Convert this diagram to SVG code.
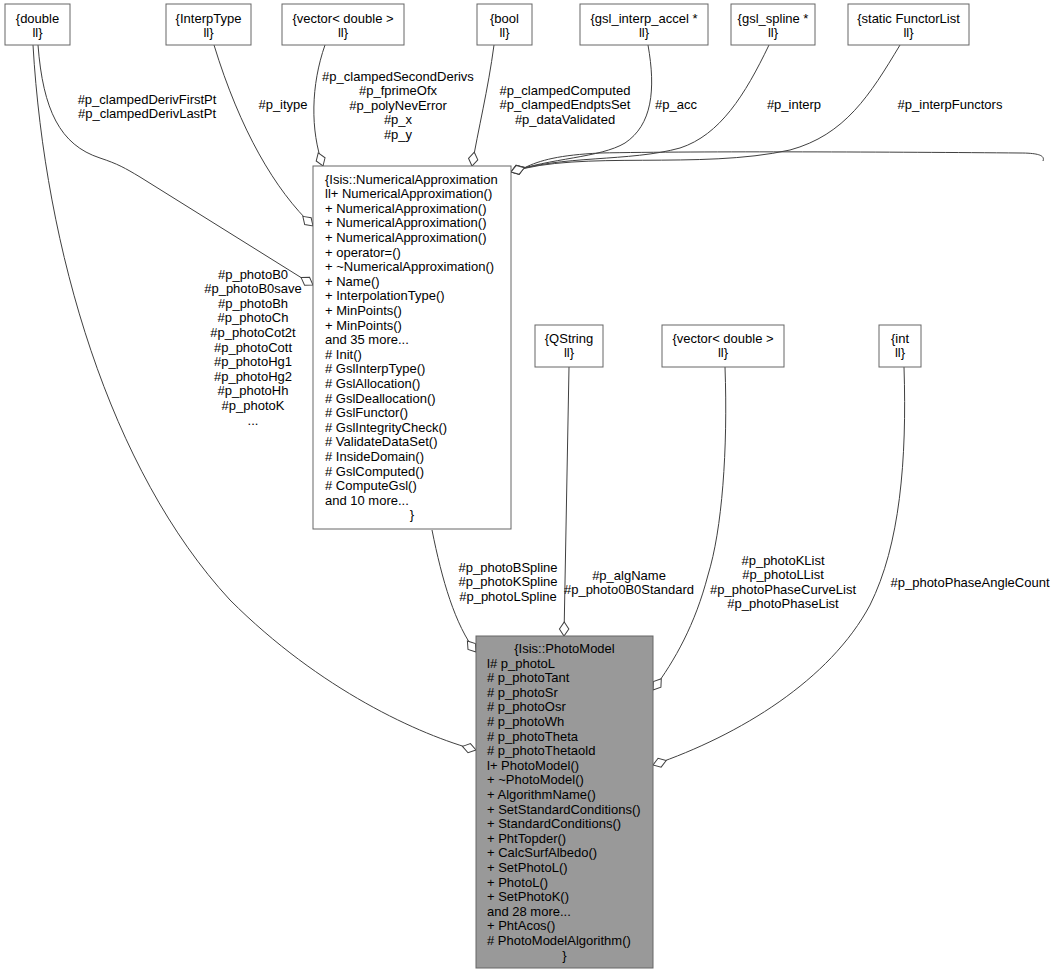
<svg xmlns="http://www.w3.org/2000/svg" width="1056" height="975" viewBox="0 0 1056 975">
<style>
.n{fill:#fff;stroke:#666;stroke-width:1}
.g{fill:#999;stroke:#666;stroke-width:1}
text{font-family:"Liberation Sans",Arial,Helvetica,sans-serif;font-size:13px;fill:#000}
.c{text-anchor:middle}
.e{fill:none;stroke:#404040;stroke-width:1;marker-end:url(#od)}
</style>
<defs>
<marker id="od" markerUnits="userSpaceOnUse" markerWidth="16" markerHeight="12" refX="15" refY="6" orient="auto">
<path d="M1,6 L8,1.3 L15,6 L8,10.7 Z" fill="#fff" stroke="#404040" stroke-width="1"/>
</marker>
</defs>
<rect width="1056" height="975" fill="#fff"/>
<g id="edges">
<path class="e" d="M38,45 C43,110 60,145 100,158 C118,164 125,168 140,177 L313,285"/>
<path class="e" d="M33,45 C45,250 110,470 230,600 C320,690 420,735 476,750"/>
<path class="e" d="M214,45 C240,130 275,190 313,226"/>
<path class="e" d="M325,45 C311,85 310,130 323,166"/>
<path class="e" d="M494,45 C488,90 478,130 472,166"/>
<path class="e" d="M648,45 C656,90 652,125 625,143 C600,158 550,158 511,172"/>
<path class="e" d="M769,45 C745,95 720,135 680,148 C630,162 560,155 511,172"/>
<path class="e" d="M1043,161 C1045,156 1040,153 1020,153 C900,152 700,151 600,153 C560,155 540,160 524,168 M900,45 C870,95 845,135 790,150 C700,170 580,150 511,172"/>
<path class="e" d="M432,530 C442,580 455,625 476,652"/>
<path class="e" d="M569,367 L564,636"/>
<path class="e" d="M725,367 C728,450 722,530 708,575 C695,625 675,660 653,690"/>
<path class="e" d="M904,367 C907,460 900,545 870,605 C830,680 740,735 653,765"/>
<text class="c" x="147" y="103.5">#p_clampedDerivFirstPt</text>
<text class="c" x="147" y="118.1">#p_clampedDerivLastPt</text>
<text class="c" x="283" y="108.5">#p_itype</text>
<text class="c" x="398" y="80.5">#p_clampedSecondDerivs<tspan x="398" dy="14.6">#p_fprimeOfx</tspan><tspan x="398" dy="14.6">#p_polyNevError</tspan><tspan x="398" dy="14.6">#p_x</tspan><tspan x="398" dy="14.6">#p_y</tspan></text>
<text class="c" x="565" y="94.5">#p_clampedComputed<tspan x="565" dy="14.6">#p_clampedEndptsSet</tspan><tspan x="565" dy="14.6">#p_dataValidated</tspan></text>
<text class="c" x="676" y="108.5">#p_acc</text>
<text class="c" x="794" y="108.5">#p_interp</text>
<text class="c" x="950" y="108.5">#p_interpFunctors</text>
<text class="c" x="253" y="278.5">#p_photoB0<tspan x="253" dy="14.6">#p_photoB0save</tspan><tspan x="253" dy="14.6">#p_photoBh</tspan><tspan x="253" dy="14.6">#p_photoCh</tspan><tspan x="253" dy="14.6">#p_photoCot2t</tspan><tspan x="253" dy="14.6">#p_photoCott</tspan><tspan x="253" dy="14.6">#p_photoHg1</tspan><tspan x="253" dy="14.6">#p_photoHg2</tspan><tspan x="253" dy="14.6">#p_photoHh</tspan><tspan x="253" dy="14.6">#p_photoK</tspan><tspan x="253" dy="14.6">...</tspan></text>
<text class="c" x="508" y="571.5">#p_photoBSpline<tspan x="508" dy="14.6">#p_photoKSpline</tspan><tspan x="508" dy="14.6">#p_photoLSpline</tspan></text>
<text class="c" x="629" y="579.5">#p_algName<tspan x="629" dy="14.6">#p_photo0B0Standard</tspan></text>
<text class="c" x="783" y="564.5">#p_photoKList<tspan x="783" dy="14.6">#p_photoLList</tspan><tspan x="783" dy="14.6">#p_photoPhaseCurveList</tspan><tspan x="783" dy="14.6">#p_photoPhaseList</tspan></text>
<text class="c" x="970" y="586.5">#p_photoPhaseAngleCount</text>
</g>
<g id="n_double"><rect class="n" x="5" y="4" width="65" height="41"/><text class="c" x="37.5" y="22.5">{double</text><text class="c" x="37.5" y="37">ll}</text></g>
<g id="n_interptype"><rect class="n" x="166" y="4" width="85" height="41"/><text class="c" x="208.5" y="22.5">{InterpType</text><text class="c" x="208.5" y="37">ll}</text></g>
<g id="n_vector1"><rect class="n" x="282" y="4" width="122" height="41"/><text class="c" x="343" y="22.5">{vector&lt; double &gt;</text><text class="c" x="343" y="37">ll}</text></g>
<g id="n_bool"><rect class="n" x="477" y="4" width="55" height="41"/><text class="c" x="504.5" y="22.5">{bool</text><text class="c" x="504.5" y="37">ll}</text></g>
<g id="n_accel"><rect class="n" x="580" y="4" width="128" height="41"/><text class="c" x="644" y="22.5">{gsl_interp_accel *</text><text class="c" x="644" y="37">ll}</text></g>
<g id="n_spline"><rect class="n" x="731" y="4" width="84" height="41"/><text class="c" x="773" y="22.5">{gsl_spline *</text><text class="c" x="773" y="37">ll}</text></g>
<g id="n_functor"><rect class="n" x="848" y="4" width="121" height="41"/><text class="c" x="908.5" y="22.5">{static FunctorList</text><text class="c" x="908.5" y="37">ll}</text></g>
<g id="n_numapprox"><rect class="n" x="313" y="166" width="198" height="363"/>
<text x="325" y="183.5">{Isis::NumericalApproximation<tspan x="325" dy="14.6">ll+ NumericalApproximation()</tspan><tspan x="325" dy="14.6">+ NumericalApproximation()</tspan><tspan x="325" dy="14.6">+ NumericalApproximation()</tspan><tspan x="325" dy="14.6">+ NumericalApproximation()</tspan><tspan x="325" dy="14.6">+ operator=()</tspan><tspan x="325" dy="14.6">+ ~NumericalApproximation()</tspan><tspan x="325" dy="14.6">+ Name()</tspan><tspan x="325" dy="14.6">+ InterpolationType()</tspan><tspan x="325" dy="14.6">+ MinPoints()</tspan><tspan x="325" dy="14.6">+ MinPoints()</tspan><tspan x="325" dy="14.6">and 35 more...</tspan><tspan x="325" dy="14.6"># Init()</tspan><tspan x="325" dy="14.6"># GslInterpType()</tspan><tspan x="325" dy="14.6"># GslAllocation()</tspan><tspan x="325" dy="14.6"># GslDeallocation()</tspan><tspan x="325" dy="14.6"># GslFunctor()</tspan><tspan x="325" dy="14.6"># GslIntegrityCheck()</tspan><tspan x="325" dy="14.6"># ValidateDataSet()</tspan><tspan x="325" dy="14.6"># InsideDomain()</tspan><tspan x="325" dy="14.6"># GslComputed()</tspan><tspan x="325" dy="14.6"># ComputeGsl()</tspan><tspan x="325" dy="14.6">and 10 more...</tspan></text>
<text class="c" x="412" y="519.3">}</text></g>
<g id="n_qstring"><rect class="n" x="535" y="325" width="68" height="42"/><text class="c" x="569" y="342.5">{QString</text><text class="c" x="569" y="357">ll}</text></g>
<g id="n_vector2"><rect class="n" x="662" y="325" width="122" height="42"/><text class="c" x="723" y="342.5">{vector&lt; double &gt;</text><text class="c" x="723" y="357">ll}</text></g>
<g id="n_int"><rect class="n" x="879" y="325" width="42" height="42"/><text class="c" x="900" y="342.5">{int</text><text class="c" x="900" y="357">ll}</text></g>
<g id="n_photomodel"><rect class="g" x="476" y="636" width="177" height="332"/>
<text class="c" x="564.5" y="653">{Isis::PhotoModel</text>
<text x="487" y="667.6">l# p_photoL<tspan x="487" dy="14.6"># p_photoTant</tspan><tspan x="487" dy="14.6"># p_photoSr</tspan><tspan x="487" dy="14.6"># p_photoOsr</tspan><tspan x="487" dy="14.6"># p_photoWh</tspan><tspan x="487" dy="14.6"># p_photoTheta</tspan><tspan x="487" dy="14.6"># p_photoThetaold</tspan><tspan x="487" dy="14.6">l+ PhotoModel()</tspan><tspan x="487" dy="14.6">+ ~PhotoModel()</tspan><tspan x="487" dy="14.6">+ AlgorithmName()</tspan><tspan x="487" dy="14.6">+ SetStandardConditions()</tspan><tspan x="487" dy="14.6">+ StandardConditions()</tspan><tspan x="487" dy="14.6">+ PhtTopder()</tspan><tspan x="487" dy="14.6">+ CalcSurfAlbedo()</tspan><tspan x="487" dy="14.6">+ SetPhotoL()</tspan><tspan x="487" dy="14.6">+ PhotoL()</tspan><tspan x="487" dy="14.6">+ SetPhotoK()</tspan><tspan x="487" dy="14.6">and 28 more...</tspan><tspan x="487" dy="14.6">+ PhtAcos()</tspan><tspan x="487" dy="14.6"># PhotoModelAlgorithm()</tspan></text>
<text class="c" x="564.5" y="959.6">}</text></g>
</svg>
